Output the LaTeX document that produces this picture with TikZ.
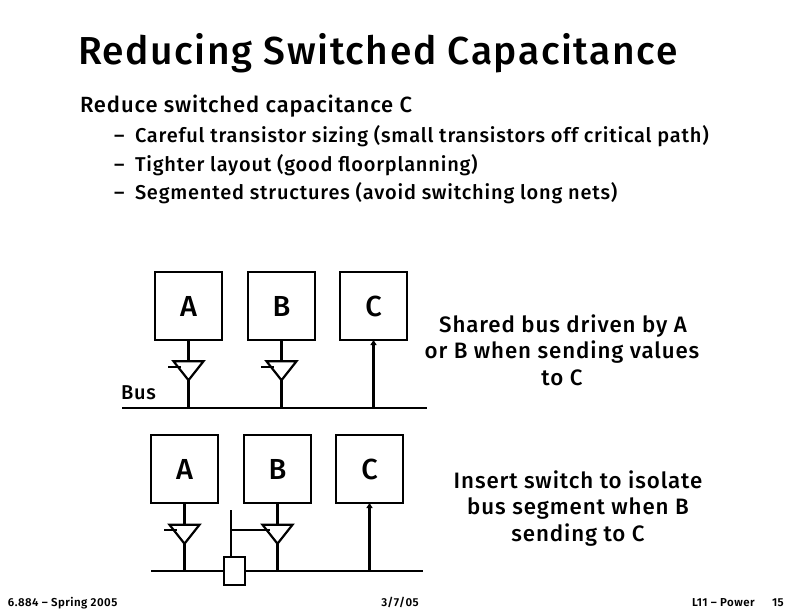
\documentclass[tikz,border=0pt]{standalone}
\usepackage{fontspec}
\setmainfont{Fira Sans Medium}[BoldFont={Fira Sans SemiBold},LetterSpace=4]
\usetikzlibrary{shapes.geometric,arrows.meta}
\tikzset{
  x=1pt,y=-1pt,
  wire/.style={line width=2.2pt},
  blockbox/.style={draw,line width=2.2pt,minimum width=67pt,minimum height=68pt,inner sep=0pt,outer sep=0pt,font=\fontsize{29}{29}\selectfont},
  driver/.style={draw,line width=2.2pt,isosceles triangle,isosceles triangle stretches,shape border rotate=270,minimum width=30pt,minimum height=19pt,inner sep=0pt,outer sep=0pt},
  switchbox/.style={draw,line width=2.2pt,minimum width=21pt,minimum height=28pt,inner sep=0pt,outer sep=0pt},
  txt/.style={inner sep=0pt,outer sep=0pt,anchor=base west},
  title/.style={txt,font=\fontsize{39}{39}\selectfont},
  head/.style={txt,font=\fontsize{22}{22}\selectfont},
  bul/.style={txt,font=\fontsize{20}{20}\selectfont},
  note/.style={inner sep=0pt,outer sep=0pt,anchor=base,font=\fontsize{22.3}{22.3}\selectfont},
  foot/.style={inner sep=0pt,outer sep=0pt,font=\bfseries\fontsize{11.5}{11.5}\selectfont},
  arr/.style={wire,-{Triangle[length=5pt,width=6pt]}}
}
\begin{document}
\begin{tikzpicture}
\useasboundingbox (0,0) rectangle (792,612);
\node[title] (t) at (78,65) {Reducing Switched Capacitance};
\node[head] (h) at (80,113) {Reduce switched capacitance C};
\node[bul] (d1) at (114,143) {–};
\node[bul] (d2) at (114,172) {–};
\node[bul] (d3) at (114,200) {–};
\node[bul] (b1) at (135,143) {Careful transistor sizing (small transistors off critical path)};
\node[bul] (b2) at (135,172) {Tighter layout (good floorplanning)};
\node[bul] (b3) at (135,200) {Segmented structures (avoid switching long nets)};
% upper circuit
\node[blockbox] (a1) at (188.5,306) {A};
\node[blockbox] (b1x) at (281.5,306) {B};
\node[blockbox] (c1) at (373.5,306) {C};
\node[driver] (t1) at (188.5,368.5) {};
\node[driver] (t2) at (281.5,368.5) {};
\coordinate (busL) at (122,408);
\coordinate (busR) at (427,408);
\coordinate (s1) at (168,367);
\coordinate (s2) at (261,367);
\draw[wire] (busL) -- (busR);
\draw[wire] (a1.south) -- (t1.lower side);
\draw[wire] (b1x.south) -- (t2.lower side);
\draw[wire] (t1.apex) -- (t1.apex |- busL);
\draw[wire] (t2.apex) -- (t2.apex |- busL);
\draw[wire] (s1) -- (s1 -| t1.right side);
\draw[wire] (s2) -- (s2 -| t2.right side);
\draw[arr] (c1.south |- busL) -- (c1.south);
\node[txt,font=\fontsize{20}{20}\selectfont] (bus) at (121,399) {Bus};
\node[note] (n1) at (563,332) {Shared bus driven by A};
\node[note] (n2) at (562,358) {or B when sending values};
\node[note] (n3) at (562,385) {to C};
% lower circuit
\node[blockbox] (a2) at (184.5,469) {A};
\node[blockbox] (b2x) at (277.5,469) {B};
\node[blockbox] (c2) at (369.5,469) {C};
\node[driver] (t3) at (184.5,532) {};
\node[driver] (t4) at (277.5,532) {};
\node[switchbox] (sw) at (234.5,571) {};
\coordinate (bus2L) at (151,571);
\coordinate (bus2R) at (423,571);
\coordinate (s3) at (164,530);
\coordinate (ctop) at (231,510);
\draw[wire] (bus2L) -- (sw.west);
\draw[wire] (sw.east) -- (bus2R);
\draw[wire] (a2.south) -- (t3.lower side);
\draw[wire] (b2x.south) -- (t4.lower side);
\draw[wire] (t3.apex) -- (t3.apex |- bus2L);
\draw[wire] (t4.apex) -- (t4.apex |- bus2L);
\draw[wire] (s3) -- (s3 -| t3.right side);
\draw[wire] (ctop) -- (ctop |- sw.north);
\draw[wire] (ctop |- s3) -- (s3 -| t4.right side);
\draw[arr] (c2.south |- bus2L) -- (c2.south);
\node[note] (n4) at (578,488) {Insert switch to isolate};
\node[note] (n5) at (578,514) {bus segment when B};
\node[note] (n6) at (578,541) {sending to C};
% footer
\node[foot,anchor=base west] (f1) at (8,606) {6.884 – Spring 2005};
\node[foot,anchor=base] (f2) at (400,606) {3/7/05};
\node[foot,anchor=base west] (f3) at (692,606) {L11 – Power};
\node[foot,anchor=base west] (f4) at (772,606) {15};
\end{tikzpicture}
\end{document}
